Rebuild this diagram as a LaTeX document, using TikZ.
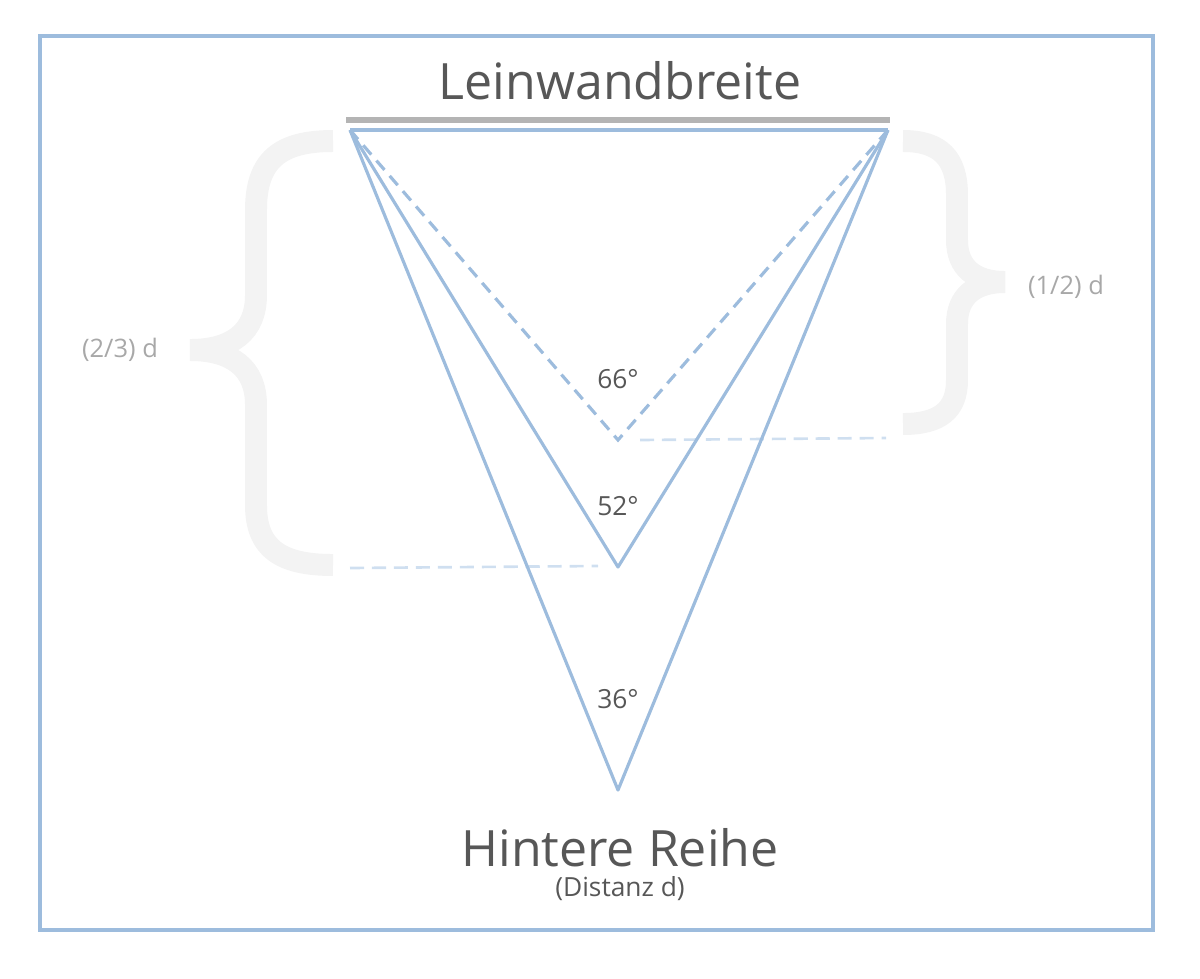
\documentclass[tikz,border=0pt]{standalone}
\usepackage{fontspec}
\setmainfont{Open Sans}
\usepackage{xcolor}
\usetikzlibrary{calc}

\definecolor{lineblue}{HTML}{9DBCDD}
\definecolor{paleblue}{HTML}{CFDFF0}
\definecolor{bargrey}{HTML}{B4B4B4}
\definecolor{bracegrey}{HTML}{F3F3F3}
\definecolor{textgrey}{HTML}{575757}
\definecolor{labelgrey}{HTML}{A8A8A8}

\tikzset{
  sight/.style={draw=lineblue, line width=1.8pt},
  sightdash/.style={sight, dash pattern=on 7pt off 4.5pt},
  guide/.style={draw=paleblue, line width=1.5pt, dash pattern=on 8pt off 4.5pt},
  bracepath/.style={draw=bracegrey, line width=12.5pt},
  bigtext/.style={text=textgrey, font=\fontsize{28.5}{34}\selectfont, anchor=base, inner sep=0pt},
  anglelbl/.style={text=textgrey, font=\fontsize{15}{18}\selectfont, anchor=base, inner sep=0pt},
  sidelbl/.style={text=labelgrey, font=\fontsize{14.5}{18}\selectfont, anchor=base, inner sep=0pt}
}

\begin{document}
\begin{tikzpicture}[x=0.02cm, y=-0.02cm]
    \useasboundingbox (0,0) rectangle (1200,978);
    \draw[lineblue, line width=2.3pt] (40,36) rectangle (1153,930);

    % braces
    \draw[bracepath] (333,141) .. controls (280,141) and (256,160) .. (256,210) -- (256,295)
      .. controls (256,332) and (232,350) .. (190,350)
      .. controls (232,350) and (256,368) .. (256,405) -- (256,505)
      .. controls (256,548) and (280,565) .. (333,565);
    \draw[bracepath] (903,141) .. controls (940,141) and (957,158) .. (957,195) -- (957,240)
      .. controls (957,268) and (975,282) .. (1005,282)
      .. controls (975,282) and (957,296) .. (957,324) -- (957,380)
      .. controls (957,410) and (940,424) .. (903,424);

    \coordinate (L) at (350,130);
    \coordinate (R) at (888,130);
    \coordinate (A) at (618,440);
    \coordinate (B) at (618,567);
    \coordinate (C) at (618,790);
    \coordinate (G1) at (640,440);
    \coordinate (G2) at (886,438);
    \coordinate (G3) at (350,568);
    \coordinate (G4) at (598,566);

    \draw[bargrey, line width=3.4pt] (346,120) -- (890,120);
    \draw[guide] (G1) -- (G2);
    \draw[guide] (G3) -- (G4);
    \path[sight, line join=round] (L) -- (R);
    \path[sightdash] (L) -- (A) -- (R);
    \path[sight, line join=round] (L) -- (B) -- (R);
    \path[sight, line join=round] (L) -- (C) -- (R);

    \node[bigtext] (top) at (620,99) {Leinwandbreite};
    \node[bigtext] (row) at (620,866) {Hintere Reihe};
    \node[anglelbl] (dist) at (620,896) {(Distanz d)};
    \node[anglelbl] (a66) at (618,388) {66°};
    \node[anglelbl] (a52) at (618,515) {52°};
    \node[anglelbl] (a36) at (618,708) {36°};
    \node[sidelbl] (twothird) at (120,357) {(2/3) d};
    \node[sidelbl] (half) at (1066,294) {(1/2) d};
\end{tikzpicture}
\end{document}
